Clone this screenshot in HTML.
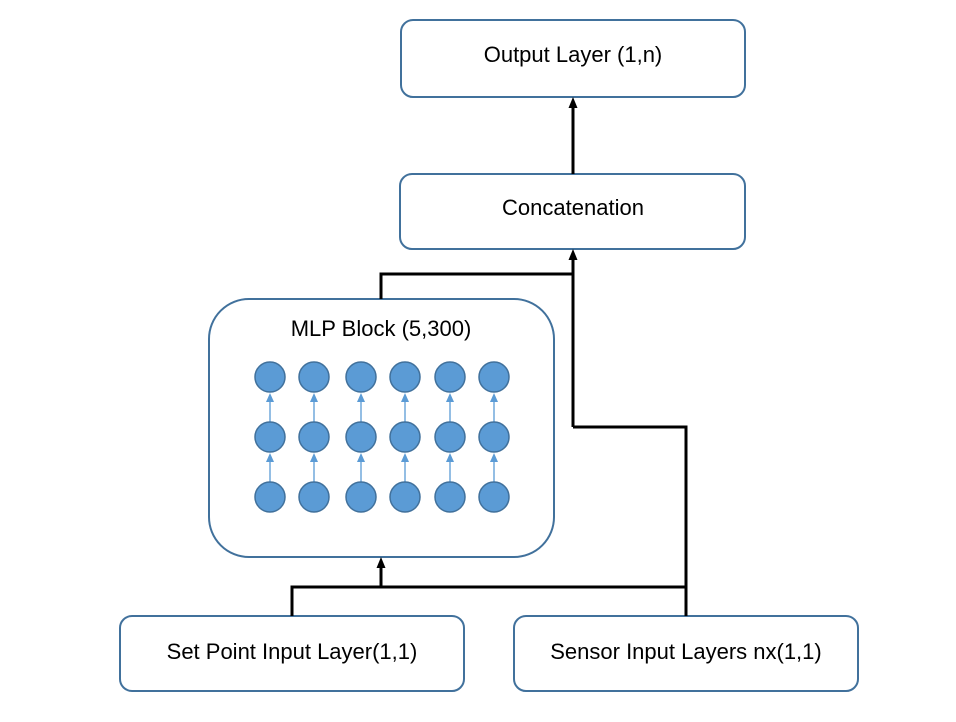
<!DOCTYPE html>
<html><head><style>body{margin:0;background:#fff}svg{display:block}</style></head><body>
<svg width="956" height="722" viewBox="0 0 956 722" xmlns="http://www.w3.org/2000/svg" font-family="'Liberation Sans',sans-serif">
<g fill="#fff" stroke="#41719c" stroke-width="2">
<rect x="401" y="20" width="344" height="77" rx="12"/>
<rect x="400" y="174" width="345" height="75" rx="12"/>
<rect x="209" y="299" width="345" height="258" rx="40"/>
<rect x="120" y="616" width="344" height="75" rx="12"/>
<rect x="514" y="616" width="344" height="75" rx="12"/>
</g>
<g font-size="22" fill="#000" text-anchor="middle">
<text x="573" y="62">Output Layer (1,n)</text>
<text x="573" y="215">Concatenation</text>
<text x="381" y="336">MLP Block (5,300)</text>
<text x="292" y="659">Set Point Input Layer(1,1)</text>
<text x="686" y="659">Sensor Input Layers nx(1,1)</text>
</g>
<g stroke="#000" stroke-width="3" fill="none">
<path d="M573 174 V106"/>
<path d="M573 427 V258"/>
<path d="M381 299 V274 H573"/>
<path d="M686 616 V427 H573"/>
<path d="M292 616 V587 H686"/>
<path d="M381 587 V566"/>
</g>
<g fill="#000">
<polygon points="568.5,108 573,97 577.5,108"/>
<polygon points="568.5,260 573,249 577.5,260"/>
<polygon points="376.5,568 381,557 385.5,568"/>
</g>
<g id="c">
<g stroke="#5b9bd5" stroke-width="1.3">
<line x1="270" y1="422" x2="270" y2="400"/>
<line x1="270" y1="482" x2="270" y2="460"/>
</g>
<g fill="#5b9bd5">
<polygon points="266,402 270,393 274,402"/>
<polygon points="266,462 270,453 274,462"/>
</g>
<g fill="#5b9bd5" stroke="#41719c" stroke-width="1.5">
<circle cx="270" cy="377" r="15"/><circle cx="270" cy="437" r="15"/><circle cx="270" cy="497" r="15"/>
</g>
</g>
<use href="#c" x="44"/><use href="#c" x="91"/><use href="#c" x="135"/><use href="#c" x="180"/><use href="#c" x="224"/>
</svg>
</body></html>
